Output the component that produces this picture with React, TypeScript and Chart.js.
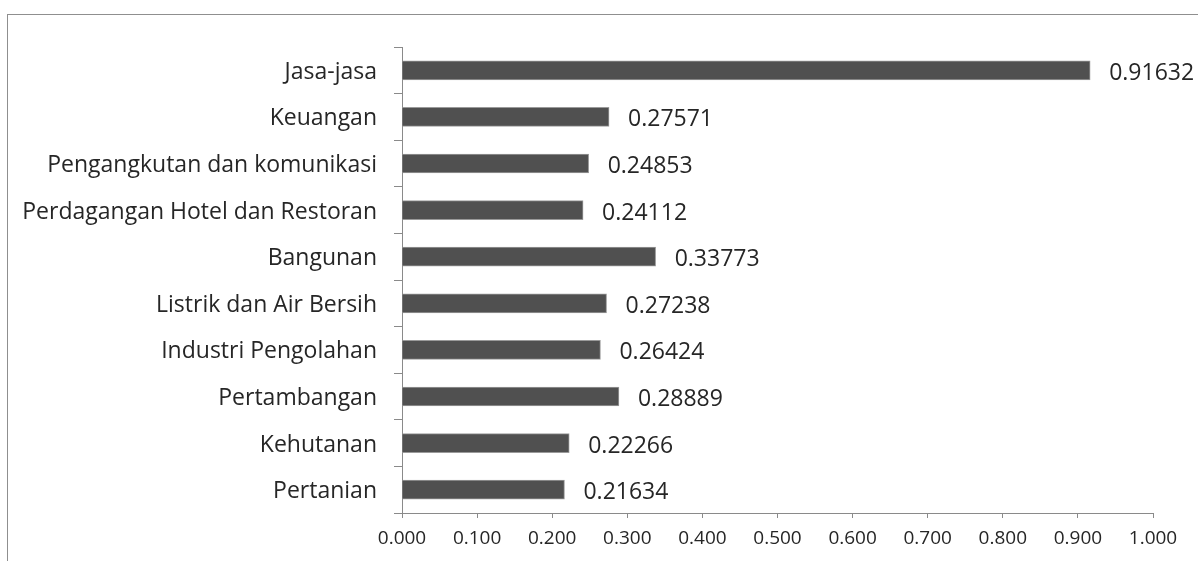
import React, { useEffect, useRef } from "react";
import { Chart, registerables } from "chart.js";

Chart.register(...registerables);

const categories = [
  "Jasa-jasa",
  "Keuangan",
  "Pengangkutan dan komunikasi",
  "Perdagangan Hotel dan Restoran",
  "Bangunan",
  "Listrik dan Air Bersih",
  "Industri Pengolahan",
  "Pertambangan",
  "Kehutanan",
  "Pertanian",
];

const values = [0.91632, 0.27571, 0.24853, 0.24112, 0.33773, 0.27238, 0.26424, 0.28889, 0.22266, 0.21634];

const valueLabels = ["0.91632", "0.27571", "0.24853", "0.24112", "0.33773", "0.27238", "0.26424", "0.28889", "0.22266", "0.21634"];

const FONT = "'Open Sans', 'Noto Sans', sans-serif";

const dataLabelPlugin = {
  id: "dataLabels",
  afterDatasetsDraw(chart: any) {
    const ctx = chart.ctx;
    const meta = chart.getDatasetMeta(0);
    ctx.save();
    ctx.font = `23px ${FONT}`;
    ctx.fillStyle = "#262626";
    ctx.textAlign = "left";
    ctx.textBaseline = "middle";
    meta.data.forEach((bar: any, i: number) => {
      ctx.fillText(valueLabels[i], bar.x + 19, bar.y + 3);
    });
    ctx.restore();
  },
};

export default function App() {
  const canvasRef = useRef<HTMLCanvasElement>(null);

  useEffect(() => {
    const chart = new Chart(canvasRef.current as HTMLCanvasElement, {
      type: "bar",
      data: {
        labels: categories,
        datasets: [
          {
            data: values,
            backgroundColor: "#505050",
            borderColor: "#9a9a9a",
            borderWidth: 1,
            barThickness: 19,
          },
        ],
      },
      options: {
        indexAxis: "y",
        animation: false,
        responsive: false,
        maintainAspectRatio: false,
        layout: { padding: { left: 0, right: 45, top: 47, bottom: 0 } },
        plugins: {
          legend: { display: false },
          tooltip: { enabled: false },
        },
        scales: {
          x: {
            min: 0,
            max: 1,
            afterFit: (scale: any) => {
              scale.height = 48;
            },
            ticks: {
              stepSize: 0.1,
              callback: (v: any) => Number(v).toFixed(3),
              font: { family: FONT, size: 19 },
              color: "#262626",
              padding: 9,
              maxRotation: 0,
            },
            grid: {
              drawOnChartArea: false,
              drawTicks: true,
              tickLength: 5,
              color: "#8a8a8a",
            },
            border: { color: "#8a8a8a", width: 1 },
          },
          y: {
            afterFit: (scale: any) => {
              scale.width = 402;
            },
            ticks: {
              font: { family: FONT, size: 23 },
              color: "#262626",
              padding: 17,
              labelOffset: 2,
              autoSkip: false,
            },
            grid: {
              offset: true,
              drawOnChartArea: false,
              drawTicks: true,
              tickLength: 8,
              color: "#8a8a8a",
            },
            border: { color: "#8a8a8a", width: 1 },
          },
        },
      },
      plugins: [dataLabelPlugin],
    });
    return () => chart.destroy();
  }, []);

  return (
    <div style={{ position: "fixed", left: 0, top: 0, width: 1198, height: 561, background: "#ffffff", overflow: "hidden" }}>
      <div
        style={{
          position: "absolute",
          left: 7,
          top: 14,
          width: 1400,
          height: 800,
          border: "1px solid #8f8f8f",
          boxSizing: "border-box",
        }}
      />
      <canvas ref={canvasRef} width={1198} height={561} style={{ position: "absolute", left: 0, top: 0, width: 1198, height: 561 }} />
    </div>
  );
}
